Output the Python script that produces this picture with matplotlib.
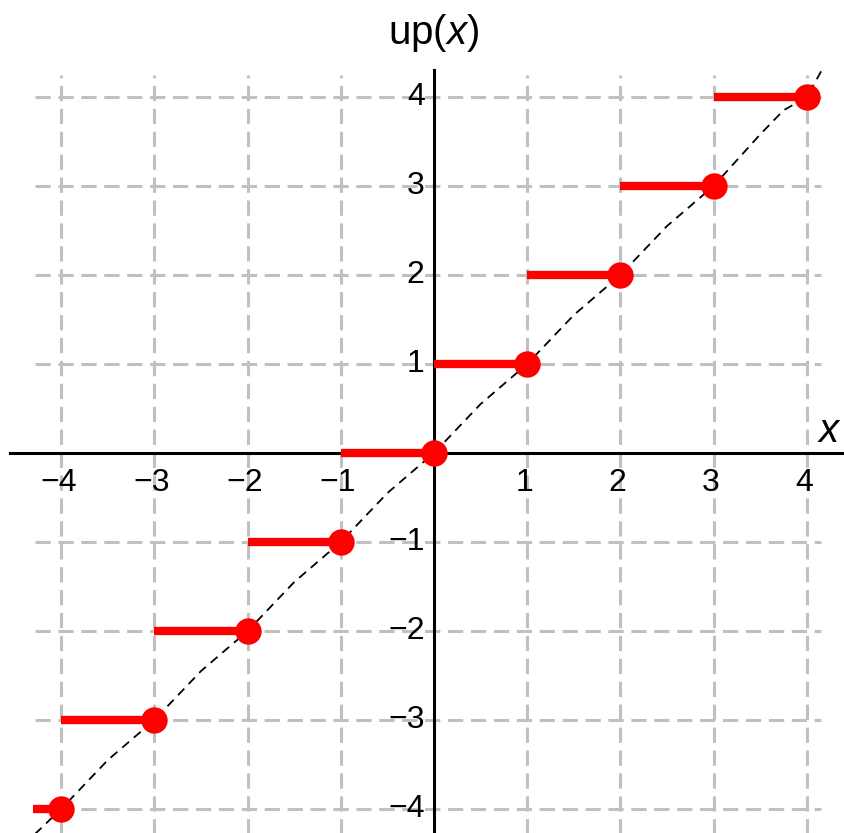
import numpy as np
import matplotlib.pyplot as plt

plt.rcParams['font.family'] = ['Liberation Sans', 'DejaVu Sans']
plt.rcParams['mathtext.fontset'] = 'custom'
plt.rcParams['mathtext.rm'] = 'Liberation Sans'
plt.rcParams['mathtext.it'] = 'Liberation Sans:italic'

# step values: up(x) = n on (n-1, n]
steps = [-4, -3, -2, -1, 0, 1, 2, 3, 4]
seg_left = [-4.3, -4, -3, -2, -1, 0, 1, 2, 3]

# dashed reference curve
ref_x = [-4.45, -4.0, -3.5, -3.0, -2.5, -2.0, -1.5, -1.0, -0.5, 0.0,
         0.5, 1.0, 1.5, 2.0, 2.5, 3.0, 3.5, 3.75, 4.0, 4.16]
ref_y = [-4.45, -4.0, -3.45, -3.0, -2.45, -2.0, -1.45, -1.0, -0.45, 0.0,
         0.55, 1.0, 1.55, 2.0, 2.55, 3.0, 3.58, 3.85, 4.0, 4.3]

ticks = [-4, -3, -2, -1, 1, 2, 3, 4]

fig = plt.figure(figsize=(8.44, 8.33), dpi=100)
ax = fig.add_axes([0, 0, 1, 1])
ax.set_xlim(-434 / 93.2, 410 / 93.2)
ax.set_ylim(-380 / 89, 453 / 89)
ax.axis('off')

grid_kw = dict(color='#c0c0c0', lw=2.2, ls=(0, (5, 2.5)), zorder=0)
for t in ticks:
    ax.plot([t, t], [-4.3, 4.25], **grid_kw)
    ax.plot([-4.28, 4.15], [t, t], **grid_kw)

# axes through the origin
ax.plot([-4.55, 4.45], [0, 0], color='black', lw=2.2, zorder=1)
ax.plot([0, 0], [-4.3, 4.3], color='black', lw=2.2, zorder=1)

ax.plot(ref_x, ref_y, color='black', lw=1.3, ls=(0, (5, 3.5)), zorder=2)

for a, n in zip(seg_left, steps):
    ax.plot([a, n], [n, n], color='#ff0000', lw=6, solid_capstyle='butt', zorder=3)
ax.plot(steps, steps, 'o', color='#ff0000', ms=19, mec='none', zorder=4)

for t in ticks:
    lab = f'\u2212{-t}' if t < 0 else str(t)
    ax.text(t - 0.03, -0.17, lab, ha='center', va='top', fontsize=23)
    ax.text(-0.1, t, lab, ha='right', va='center', fontsize=23)

ax.text(0, 4.72, 'up$(x)$', ha='center', va='center', fontsize=29)
ax.text(4.23, 0.03, 'x', ha='center', va='bottom', fontsize=29, style='italic')

fig.savefig('out.png', dpi=100)
